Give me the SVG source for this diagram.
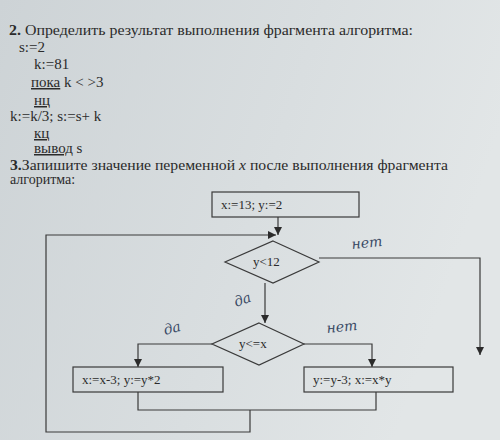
<svg xmlns="http://www.w3.org/2000/svg" width="500" height="440" viewBox="0 0 500 440">
<defs>
<linearGradient id="bg" x1="0" y1="0" x2="1" y2="0.3">
<stop offset="0" stop-color="#cdd3d6"/>
<stop offset="0.6" stop-color="#d9dee0"/>
<stop offset="1" stop-color="#e2e6e7"/>
</linearGradient>
<marker id="ah" viewBox="0 0 10 10" refX="10" refY="5" markerWidth="8" markerHeight="8" markerUnits="userSpaceOnUse" orient="auto">
<path d="M0,0 L10,5 L0,10 z" fill="#2b2b2b"/>
</marker>
<style>
.t{font-family:"Liberation Serif","DejaVu Serif","Times New Roman",serif;fill:#2b2b2b}
.q{font-size:14px}
.c{font-size:15px}
.f{font-size:13px}
.b{font-weight:bold}
.u{text-decoration:underline}
.h{font-family:"DejaVu Serif","Liberation Serif",serif;font-style:italic;fill:#3a4a66;font-size:14px}
.s{fill:none;stroke:#3a3a3a;stroke-width:1.2}
.w{fill:none;stroke:#3a3a3a;stroke-width:1.2}
</style>
</defs>
<rect x="0" y="0" width="500" height="440" fill="url(#bg)"/>
<g id="text">
<text class="t q" x="9" y="35" textLength="404" lengthAdjust="spacingAndGlyphs"><tspan class="b">2.</tspan> Определить результат выполнения фрагмента алгоритма:</text>
<text class="t c" x="19" y="52">s:=2</text>
<text class="t c" x="34" y="69">k:=81</text>
<text class="t c" x="31" y="87"><tspan class="u">пока</tspan>  k &lt; &gt;3</text>
<text class="t c u" x="34" y="105">нц</text>
<text class="t c" x="10" y="121">k:=k/3; s:=s+ k</text>
<text class="t c u" x="34" y="138">кц</text>
<text class="t c" x="34" y="153"><tspan class="u">вывод</tspan> s</text>
<text class="t q" x="10" y="170" textLength="438" lengthAdjust="spacingAndGlyphs"><tspan class="b">3.</tspan>Запишите значение переменной <tspan font-style="italic">x</tspan> после выполнения фрагмента</text>
<text class="t q" x="10" y="184">алгоритма:</text>
</g>
<g id="connectors">
<line class="w" x1="278" y1="217" x2="278" y2="235" marker-end="url(#ah)"/>
<polyline class="w" points="250,410 250,432 46,432 46,235 276,235" marker-end="url(#ah)"/>
<polyline class="w" points="319,258 480,258 480,355" marker-end="url(#ah)"/>
<line class="w" x1="265" y1="283" x2="265" y2="323" marker-end="url(#ah)"/>
<polyline class="w" points="212,344 138,344 138,367" marker-end="url(#ah)"/>
<polyline class="w" points="304,344 372,344 372,367" marker-end="url(#ah)"/>
<polyline class="w" points="138,392 138,410 376,410 376,392"/>
<text class="h" x="352" y="249" transform="rotate(-6 352 249)">нет</text>
<text class="h" x="236" y="307" transform="rotate(-20 236 307)">да</text>
<text class="h" x="165" y="335" transform="rotate(-15 165 335)">да</text>
<text class="h" x="327" y="333" transform="rotate(-6 327 333)">нет</text>
</g>
<g id="start">
<rect class="s" x="212" y="192" width="147" height="25"/>
<text class="t f" x="221" y="209">x:=13; y:=2</text>
</g>
<g id="cond1">
<polygon class="s" points="273,241 319,262 273,283 225,262"/>
<text class="t f" x="253" y="266">y&lt;12</text>
</g>
<g id="cond2">
<polygon class="s" points="259,323 304,344 259,365 212,344"/>
<text class="t f" x="239" y="348">y&lt;=x</text>
</g>
<g id="left">
<rect class="s" x="73" y="367" width="150" height="25"/>
<text class="t f" x="82" y="384">x:=x-3; y:=y*2</text>
</g>
<g id="right">
<rect class="s" x="304" y="367" width="149" height="25"/>
<text class="t f" x="313" y="384">y:=y-3; x:=x*y</text>
</g>
</svg>
